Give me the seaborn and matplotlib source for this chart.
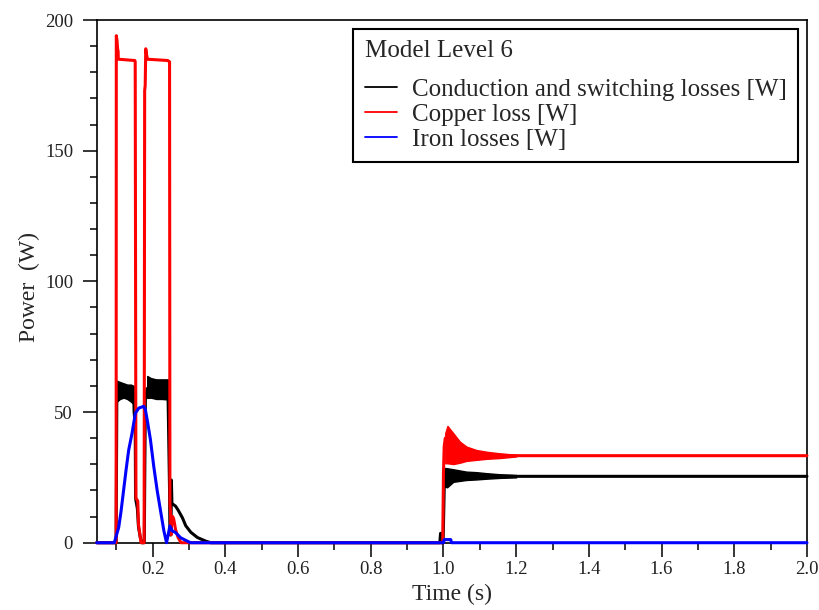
import numpy as np
import pandas as pd
import matplotlib
matplotlib.use("Agg")
import matplotlib.pyplot as plt
from matplotlib.ticker import MultipleLocator
import seaborn as sns

# ---- data (time in s, power in W) ----
# conduction and switching losses: centre line
cond_t = [0.046, 0.0995, 0.1015, 0.148, 0.149, 0.152, 0.153, 0.158, 0.161, 0.166, 0.170,
          0.177, 0.1785, 0.180, 0.185, 0.242, 0.2465, 0.2475, 0.2505, 0.2515, 0.253, 0.258,
          0.263, 0.270, 0.282, 0.291, 0.305, 0.323, 0.346, 0.360, 0.990, 0.992, 0.994,
          0.999, 1.003, 1.010, 1.030, 1.060, 1.100, 1.150, 1.200, 2.0]
cond_p = [0, 0, 58, 57, 50, 45, 17, 13, 6, 2, 0,
          0, 30, 55, 59, 59, 20, 3, 3, 24, 15, 14.5,
          14, 12.5, 9.5, 6.5, 4, 2, 0.6, 0, 0, 3.6, 0,
          0, 27, 25, 25.3, 25.5, 25.5, 25.5, 25.4, 25.4]
# ripple envelopes of the conduction losses
cond_band1_t = [0.1015, 0.110, 0.120, 0.130, 0.140, 0.148]
cond_band1_lo = [54, 55, 55.5, 55, 54, 53]
cond_band1_hi = [62, 61.5, 61, 60.5, 60.5, 60]
cond_band2_t = [0.185, 0.195, 0.210, 0.225, 0.242]
cond_band2_lo = [55.4, 55.5, 55, 55, 54.8]
cond_band2_hi = [63.8, 63, 62.5, 62.5, 62.5]
cond_band3_t = [1.003, 1.010, 1.027, 1.063, 1.090, 1.119, 1.155, 1.200]
cond_band3_lo = [21.5, 21.2, 23.3, 24.0, 24.2, 24.5, 24.8, 25.0]
cond_band3_hi = [28.6, 28.5, 28.1, 27.2, 27.0, 26.6, 26.2, 25.9]

# copper loss: centre line
copper_t = [0.046, 0.0995, 0.100, 0.102, 0.1035, 0.105, 0.1055, 0.151, 0.152, 0.154, 0.159,
            0.161, 0.165, 0.168, 0.1765, 0.178, 0.1795, 0.181, 0.183, 0.1855, 0.2415, 0.2465,
            0.2475, 0.249, 0.2505, 0.2525, 0.255, 0.258, 0.263, 0.270, 0.278, 0.998, 1.000,
            1.002, 1.005, 1.011, 1.030, 1.060, 1.100, 1.150, 1.200, 2.0]
copper_p = [0, 0, 194, 192, 189, 188, 185, 184.5, 184, 17, 16,
            7, 3, 0, 0, 173, 175, 189, 187, 185, 184.5, 184,
            15, 12, 3, 8, 10, 9, 5, 2, 0, 0, 26.6,
            36.8, 40, 38, 35.5, 34.2, 33.8, 33.5, 33.3, 33.3]
copper_band_t = [1.005, 1.011, 1.027, 1.045, 1.063, 1.090, 1.119, 1.155, 1.200]
copper_band_lo = [30.4, 30.4, 30.1, 30.6, 31.3, 31.7, 32.1, 32.4, 33.0]
copper_band_hi = [42.0, 44.7, 41.9, 38.7, 36.8, 35.5, 34.8, 34.2, 33.6]

# iron losses
iron_t = [0.046, 0.0945, 0.1065, 0.113, 0.120, 0.127, 0.134, 0.1433, 0.1525, 0.1618,
          0.1756, 0.180, 0.1866, 0.194, 0.2032, 0.2124, 0.2217, 0.2309, 0.2382, 0.2475,
          0.254, 0.263, 0.277, 0.2954, 0.3046, 1.000, 1.002, 1.020, 1.022, 2.0]
iron_p = [0, 0, 5.8, 12, 20, 28, 35.4, 41.9, 49.6, 51.5,
          52.2, 50.9, 45.7, 39.3, 29, 20, 12.2, 4.5, 0, 6.4,
          4.5, 3.9, 1.9, 0.6, 0, 0, 1.2, 1.2, 0, 0]

legend_title = "Model Level 6"
names = ["Conduction and switching losses [W]", "Copper loss [W]", "Iron losses [W]"]
colors = ["#000000", "#ff0000", "#0000ff"]

sns.set_style("ticks")
plt.rcParams["font.family"] = ["Liberation Serif", "DejaVu Serif"]

fig = plt.figure(figsize=(8.2, 6.1), dpi=100)
ax = fig.add_axes([0.1179, 0.1103, 0.8662, 0.8569])

lw = 2.2
# black first, then red, then blue on top
sns.lineplot(x=cond_t, y=cond_p, color=colors[0], lw=lw, sort=False, estimator=None,
             label=names[0], ax=ax, clip_on=False, zorder=3)
for bt, blo, bhi in [(cond_band1_t, cond_band1_lo, cond_band1_hi),
                     (cond_band2_t, cond_band2_lo, cond_band2_hi),
                     (cond_band3_t, cond_band3_lo, cond_band3_hi)]:
    ax.fill_between(bt, blo, bhi, color=colors[0], lw=1.0, zorder=3)

sns.lineplot(x=copper_t, y=copper_p, color=colors[1], lw=lw, sort=False, estimator=None,
             label=names[1], ax=ax, clip_on=False, zorder=3)
ax.fill_between(copper_band_t, copper_band_lo, copper_band_hi, color=colors[1], lw=1.0, zorder=3)

sns.lineplot(x=iron_t, y=iron_p, color=colors[2], lw=lw, sort=False, estimator=None,
             label=names[2], ax=ax, clip_on=False, zorder=3)

ax.set_xlim(0.046, 2.0)
ax.set_ylim(0, 200)
ax.xaxis.set_major_locator(MultipleLocator(0.2))
ax.xaxis.set_minor_locator(MultipleLocator(0.1))
ax.yaxis.set_major_locator(MultipleLocator(50))
ax.yaxis.set_minor_locator(MultipleLocator(10))
ax.xaxis.set_major_formatter(plt.FuncFormatter(lambda v, p: f"{v:.1f}"))

for s in ax.spines.values():
    s.set_visible(True)
    s.set_color("black")
    s.set_linewidth(1.2)

ax.tick_params(axis="both", which="major", direction="out", length=10, width=1.1,
               labelsize=13.5, labelcolor="#222222", color="black")
ax.tick_params(axis="both", which="minor", direction="out", length=5, width=1.1, color="black")
ax.tick_params(axis="x", which="major", pad=3)
ax.tick_params(axis="y", which="major", pad=7)

ax.set_xlabel("Time (s)", fontsize=17)
ax.set_ylabel("Power  (W)", fontsize=17)
ax.xaxis.set_label_coords(0.5, -0.078)
ax.yaxis.set_label_coords(-0.08, 0.49)

leg = ax.legend(title=legend_title, loc="upper right", fontsize=18, title_fontsize=18,
                frameon=True, fancybox=False, framealpha=1, edgecolor="black",
                handlelength=1.3, handletextpad=0.6, labelspacing=0.1,
                borderaxespad=0.35, borderpad=0.45, alignment="left")
leg.get_frame().set_linewidth(1.5)
for h in leg.get_lines():
    h.set_linewidth(1.3)
leg._legend_box.sep = 12

fig.savefig("out.png", dpi=100)
